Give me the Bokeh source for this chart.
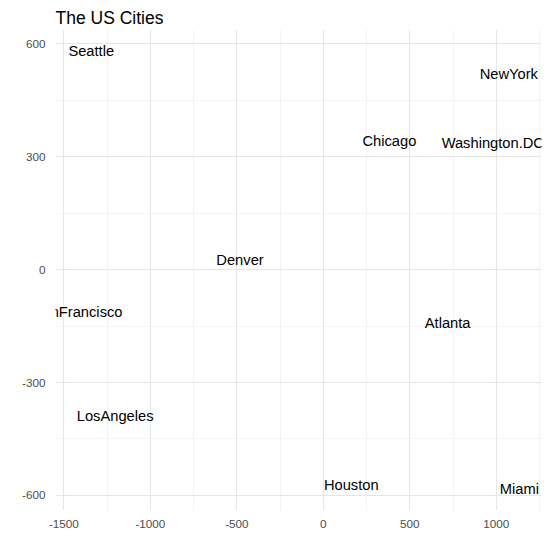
from bokeh.plotting import figure
from bokeh.models import Range1d, ColumnDataSource, FixedTicker, PrintfTickFormatter
from bokeh.core.properties import value
from bokeh.embed import file_html
from bokeh.resources import INLINE

cities = ["Atlanta", "Chicago", "Denver", "Houston", "LosAngeles", "Miami",
          "NewYork", "SanFrancisco", "Seattle", "Washington.DC"]
dim1 = [718.8, 382.1, -481.6, 161.5, -1203.7, 1133.5, 1072.2, -1420.6, -1341.7, 979.6]
dim2 = [-143.0, 340.8, 25.3, -572.8, -390.1, -581.9, 519.0, -112.6, 579.7, 335.8]
x_ticks = [-1500, -1000, -500, 0, 500, 1000]
y_ticks = [-600, -300, 0, 300, 600]

src = ColumnDataSource(dict(x=dim1, y=dim2, label=cities))

xr = max(dim1) - min(dim1)
yr = max(dim2) - min(dim2)
p = figure(width=550, height=550, output_backend="svg", toolbar_location=None,
           x_range=Range1d(min(dim1) - 0.05 * xr, max(dim1) + 0.05 * xr),
           y_range=Range1d(min(dim2) - 0.05 * yr, max(dim2) + 0.05 * yr),
           title="The US Cities")
p.min_border_left = 55
p.min_border_right = 9
p.min_border_top = 29
p.min_border_bottom = 40
p.outline_line_color = None
p.background_fill_color = "white"
p.border_fill_color = "white"

p.title.text_font = "Liberation Sans"
p.title.text_font_size = "17.5px"
p.title.text_font_style = "normal"
p.title.text_color = "black"
p.title.offset = 0
p.title.standoff = 4

for ax in (p.xaxis, p.yaxis):
    ax.axis_line_color = None
    ax.major_tick_line_color = None
    ax.minor_tick_line_color = None
    ax.major_label_text_font = "Liberation Sans"
    ax.major_label_text_font_size = "11.7px"
    ax.major_label_text_color = "#4D4D4D"
    ax.formatter = PrintfTickFormatter(format="%d")
p.xaxis.ticker = FixedTicker(ticks=x_ticks, minor_ticks=[-1250, -750, -250, 250, 750, 1250])
p.yaxis.ticker = FixedTicker(ticks=y_ticks, minor_ticks=[-450, -150, 150, 450])
p.xaxis.major_label_standoff = 3
p.yaxis.major_label_standoff = 4

for g in (p.xgrid, p.ygrid):
    g.grid_line_color = "#E6E6E6"
    g.grid_line_width = 1.1
    g.minor_grid_line_color = "#EBEBEB"
    g.minor_grid_line_width = 0.6

p.text(x="x", y="y", text="label", source=src, text_align="center",
       text_baseline="middle", text_font=value("Liberation Sans"),
       text_font_size="14.7px", text_color="black")

open("out.html", "w").write(file_html(p, INLINE))
